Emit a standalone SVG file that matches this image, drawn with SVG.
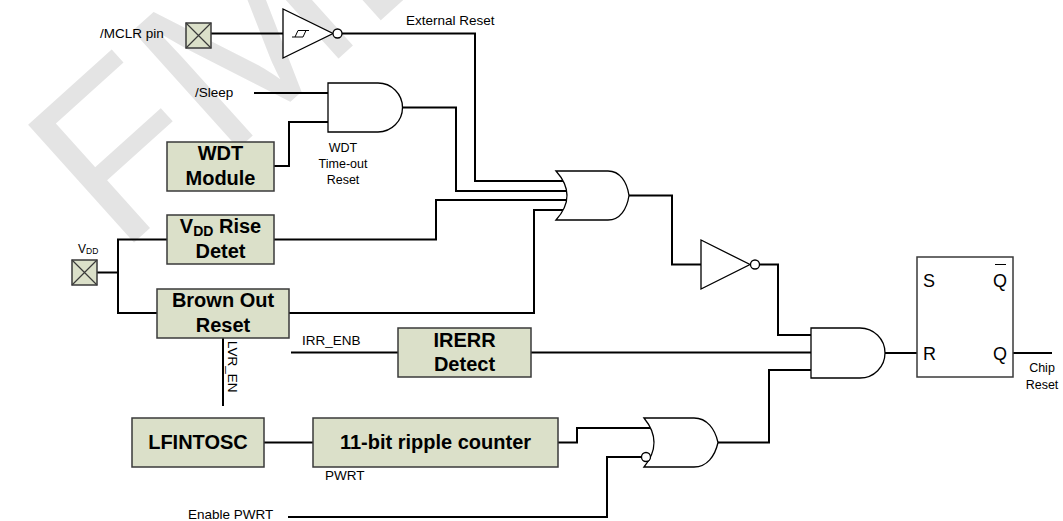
<svg xmlns="http://www.w3.org/2000/svg" width="1063" height="521" viewBox="0 0 1063 521">
<style>
text{font-family:"Liberation Sans",Arial,sans-serif;fill:#000}
.lbl{font-size:13.5px}
.sm{font-size:12.5px}
.big{font-size:20px;font-weight:bold}
.ff{font-size:18px}
.box{fill:#dbe0c9;stroke:#3a3a3a;stroke-width:1.5}
.pad{fill:#dbe0c9;stroke:#3a3a3a;stroke-width:1.5}
.gate{fill:#fff;stroke:#000;stroke-width:1.3}
.wire{fill:none;stroke:#000;stroke-width:2}
.wm{font-size:230px;fill:#e4e4e4;font-family:"Liberation Sans",Arial,sans-serif}
</style>
<rect width="1063" height="521" fill="#fff"/>
<text class="wm" transform="translate(120,255) rotate(-42)">FMD</text>

<g id="connectors">
<path class="wire" d="M211,33.5 H283"/>
<path class="wire" d="M342,33.5 H475 V181 H563"/>
<path class="wire" d="M254,93 H328"/>
<path class="wire" d="M274,166 H289 V122 H328"/>
<path class="wire" d="M402,107.5 H456 V191 H567"/>
<path class="wire" d="M274,239.5 H436 V200 H567"/>
<path class="wire" d="M289,313 H534 V210 H563"/>
<path class="wire" d="M97,272.5 H118"/>
<path class="wire" d="M167,239.5 H118 V313 H157"/>
<path class="wire" d="M223,338 V406"/>
<path class="wire" d="M629,195.5 H672 V264.5 H701"/>
<path class="wire" d="M759.5,264.5 H778 V335 H811"/>
<path class="wire" d="M291,352.5 H398"/>
<path class="wire" d="M531,352.5 H811"/>
<path class="wire" d="M264,442.5 H313"/>
<path class="wire" d="M558,442.5 H577 V428 H650"/>
<path class="wire" d="M288,517 H607 V457 H641.5"/>
<path class="wire" d="M718,442.5 H769 V370 H811"/>
<path class="wire" d="M885,353 H917"/>
<path class="wire" d="M1013,353 H1052"/>
</g>

<g id="mclr-pin">
<rect class="pad" x="186" y="23" width="25" height="25"/>
<path d="M186,23 L211,48 M211,23 L186,48" stroke="#3a3a3a" stroke-width="1.2"/>
<text class="lbl" x="100" y="38">/MCLR pin</text>
</g>

<g id="schmitt-buffer">
<path class="gate" d="M283,9 L283,58 L333,33.5 Z"/>
<circle class="gate" cx="337.5" cy="33.5" r="4.5"/>
<path d="M292,37 H303 L306,30.5 H309 M295,37 L298,30.5 H306" fill="none" stroke="#000" stroke-width="1"/>
<text class="lbl" x="406" y="25">External Reset</text>
</g>

<g id="sleep-label"><text class="lbl" x="195" y="97">/Sleep</text></g>

<g id="wdt-module">
<rect class="box" x="167" y="142" width="107" height="49"/>
<text class="big" x="220.5" y="160" text-anchor="middle">WDT</text>
<text class="big" x="220.5" y="185" text-anchor="middle">Module</text>
</g>

<g id="wdt-and">
<path class="gate" d="M328,83 H378 A24.5,24.5 0 0 1 378,132 H328 Z"/>
<text class="sm" x="343" y="152" text-anchor="middle">WDT</text>
<text class="sm" x="343" y="168" text-anchor="middle">Time-out</text>
<text class="sm" x="343" y="184" text-anchor="middle">Reset</text>
</g>

<g id="reset-or">
<path class="gate" d="M556,171 H608 C620,171 627,182 629,195.5 C627,209 620,220 608,220 H556 Q578,195.5 556,171 Z"/>
</g>

<g id="vdd-pin">
<rect class="pad" x="72" y="260" width="25" height="25"/>
<path d="M72,260 L97,285 M97,260 L72,285" stroke="#3a3a3a" stroke-width="1.2"/>
<text x="78" y="253" style="font-size:12px">V<tspan style="font-size:8.5px" dy="1">DD</tspan></text>
</g>

<g id="vdd-rise">
<rect class="box" x="167" y="215" width="107" height="49"/>
<text class="big" x="220.5" y="233" text-anchor="middle">V<tspan style="font-size:14px" dy="3">DD</tspan><tspan dy="-3"> Rise</tspan></text>
<text class="big" x="220.5" y="258" text-anchor="middle">Detet</text>
</g>

<g id="brown-out">
<rect class="box" x="157" y="289" width="132" height="49"/>
<text class="big" x="223" y="307" text-anchor="middle">Brown Out</text>
<text class="big" x="223" y="332" text-anchor="middle">Reset</text>
<text class="lbl" transform="translate(228,341) rotate(90)">LVR_EN</text>
</g>

<g id="irerr">
<rect class="box" x="398" y="328" width="133" height="49"/>
<text class="big" x="464.5" y="347" text-anchor="middle">IRERR</text>
<text class="big" x="464.5" y="371" text-anchor="middle">Detect</text>
<text class="lbl" x="302" y="345">IRR_ENB</text>
</g>

<g id="lfintosc">
<rect class="box" x="132" y="418" width="132" height="49"/>
<text class="big" x="198" y="449" text-anchor="middle">LFINTOSC</text>
</g>

<g id="ripple-counter">
<rect class="box" x="313" y="418" width="245" height="49"/>
<text class="big" x="435.5" y="449" text-anchor="middle">11-bit ripple counter</text>
<text class="lbl" x="325" y="480">PWRT</text>
</g>

<g id="enable-pwrt"><text class="lbl" x="188" y="519">Enable PWRT</text></g>

<g id="pwrt-or">
<path class="gate" d="M644,418 H694 C707,418 715,429 718,442.5 C715,456 707,467 694,467 H644 Q664,442.5 644,418 Z"/>
<circle class="gate" cx="646" cy="457" r="4.5"/>
</g>

<g id="inverter">
<path class="gate" d="M701,240 L701,289 L750,264.5 Z"/>
<circle class="gate" cx="755" cy="264.5" r="4.5"/>
</g>

<g id="reset-and">
<path class="gate" d="M811,328 H860 A25,25 0 0 1 860,378 H811 Z"/>
</g>

<g id="sr-latch">
<rect x="917" y="257" width="96" height="120" fill="#fff" stroke="#3a3a3a" stroke-width="1.5"/>
<text class="ff" x="923" y="287">S</text>
<text class="ff" x="993" y="287">Q</text>
<path d="M995,264.5 H1006" stroke="#000" stroke-width="1"/>
<text class="ff" x="923" y="360">R</text>
<text class="ff" x="993" y="360">Q</text>
<text class="sm" x="1042" y="372" text-anchor="middle">Chip</text>
<text class="sm" x="1042" y="389" text-anchor="middle">Reset</text>
</g>
</svg>
